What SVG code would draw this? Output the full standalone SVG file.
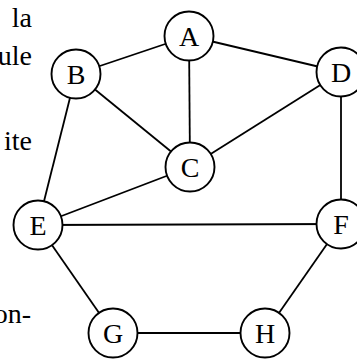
<svg xmlns="http://www.w3.org/2000/svg" width="357" height="363" viewBox="0 0 357 363">
  <style>
    .edge { stroke: #000; stroke-width: 1.8; fill: none; }
    .node circle { fill: #fff; stroke: #000; stroke-width: 1.9; }
    .node text { font-family: "Liberation Serif", "DejaVu Serif", serif; font-size: 28px; text-anchor: middle; fill: #000; }
    .margin { font-family: "Liberation Serif", "DejaVu Serif", serif; font-size: 28px; text-anchor: end; fill: #000; }
  </style>
  <rect width="357" height="363" fill="#fff"/>

  <!-- fragments of the surrounding paragraph -->
  <g id="side-text">
    <text class="margin" x="32" y="27">la</text>
    <text class="margin" x="32" y="65">ule</text>
    <text class="margin" x="32" y="150">ite</text>
    <text class="margin" x="31" y="323">on-</text>
  </g>

  <g id="edges">
    <line class="edge" x1="189" y1="36" x2="76" y2="74"/>   <!-- A-B -->
    <line class="edge" x1="189" y1="36" x2="190" y2="167"/> <!-- A-C -->
    <line class="edge" x1="189" y1="36" x2="341" y2="72"/>  <!-- A-D -->
    <line class="edge" x1="76" y1="74" x2="190" y2="167"/>  <!-- B-C -->
    <line class="edge" x1="76" y1="74" x2="38" y2="225"/>   <!-- B-E -->
    <line class="edge" x1="190" y1="167" x2="38" y2="225"/> <!-- C-E -->
    <line class="edge" x1="190" y1="167" x2="341" y2="72"/> <!-- C-D -->
    <line class="edge" x1="341" y1="72" x2="341" y2="224"/> <!-- D-F -->
    <line class="edge" x1="38" y1="225" x2="341" y2="224"/> <!-- E-F -->
    <line class="edge" x1="38" y1="225" x2="113" y2="333"/> <!-- E-G -->
    <line class="edge" x1="341" y1="224" x2="265" y2="333"/><!-- F-H -->
    <line class="edge" x1="113" y1="333" x2="265" y2="333"/><!-- G-H -->
  </g>

  <g id="A" class="node"><circle cx="189" cy="36" r="24.5"/><text x="189" y="45.5">A</text></g>
  <g id="B" class="node"><circle cx="76" cy="74" r="24.5"/><text x="76" y="83.5">B</text></g>
  <g id="C" class="node"><circle cx="190" cy="167" r="24.5"/><text x="190" y="176.5">C</text></g>
  <g id="D" class="node"><circle cx="341" cy="72" r="24.5"/><text x="341" y="81.5">D</text></g>
  <g id="E" class="node"><circle cx="38" cy="225" r="24.5"/><text x="38" y="234.5">E</text></g>
  <g id="F" class="node"><circle cx="341" cy="224" r="24.5"/><text x="341" y="233.5">F</text></g>
  <g id="G" class="node"><circle cx="113" cy="333" r="24.5"/><text x="113" y="342.5">G</text></g>
  <g id="H" class="node"><circle cx="265" cy="333" r="24.5"/><text x="265" y="342.5">H</text></g>
</svg>
